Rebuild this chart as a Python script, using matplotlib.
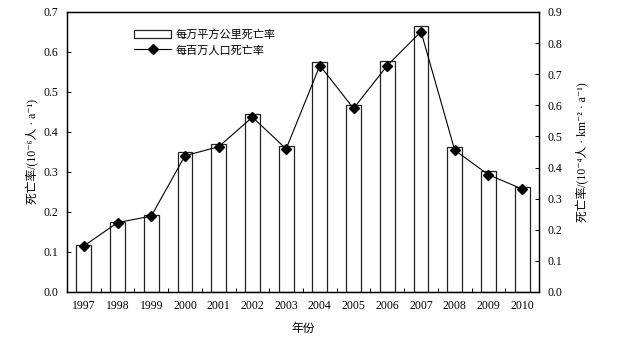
import matplotlib
matplotlib.use("Agg")
import matplotlib.pyplot as plt
import numpy as np

plt.rcParams['font.family'] = ['Liberation Serif', 'Noto Sans CJK SC', 'DejaVu Sans']
plt.rcParams['axes.unicode_minus'] = False

years = ['1997', '1998', '1999', '2000', '2001', '2002', '2003',
         '2004', '2005', '2006', '2007', '2008', '2009', '2010']
area_rate = [0.117, 0.175, 0.193, 0.349, 0.371, 0.446, 0.365,
             0.576, 0.468, 0.578, 0.664, 0.362, 0.302, 0.263]
pop_rate = [0.148, 0.223, 0.244, 0.438, 0.467, 0.562, 0.460,
            0.728, 0.590, 0.728, 0.837, 0.456, 0.377, 0.331]
left_ticks = [0.0, 0.1, 0.2, 0.3, 0.4, 0.5, 0.6, 0.7]
right_ticks = [0.0, 0.1, 0.2, 0.3, 0.4, 0.5, 0.6, 0.7, 0.8, 0.9]

fig = plt.figure(figsize=(6.42, 3.37), dpi=100)
ax = fig.add_axes([67/642, 1-292/337, 472/642, 280/337])
x = np.arange(len(years))
bars = ax.bar(x, area_rate, width=0.44, facecolor='white', edgecolor='#222222',
              linewidth=0.9, label='每万平方公里死亡率')
ax.set_xlim(-0.5, len(years)-0.5)
ax.set_ylim(0, 0.7)
ax.set_yticks(left_ticks)
ax.set_yticklabels([f'{t:.1f}' for t in left_ticks])
ax.set_xticks(x)
ax.set_xticklabels(years)
ax.tick_params(axis='x', which='major', length=0, pad=6, labelsize=8.5)
ax.set_xticks(np.arange(len(years)+1)-0.5, minor=True)
ax.tick_params(axis='x', which='minor', direction='in', length=3, width=0.7)
ax.tick_params(axis='y', direction='in', length=3, width=0.7, labelsize=8.5, pad=6)
ax.set_xlabel('年份', fontsize=8.5, labelpad=8)
ax.set_ylabel('死亡率/(10⁻⁶人 · a⁻¹)', fontsize=8.5, labelpad=3)
for s in ax.spines.values():
    s.set_linewidth(1.0)

ax2 = ax.twinx()
line, = ax2.plot(x, pop_rate, color='black', linewidth=0.8, marker='D',
                 markersize=4.6, markerfacecolor='black', label='每百万人口死亡率')
ax2.set_ylim(0, 0.9)
ax2.set_yticks(right_ticks)
ax2.set_yticklabels([f'{t:.1f}' for t in right_ticks])
ax2.tick_params(axis='y', direction='in', length=3, width=0.7, labelsize=8.5, pad=6)
ax2.set_ylabel('死亡率/(10⁻⁴人 · km⁻² · a⁻¹)', fontsize=8.5, labelpad=10)

leg = ax.legend([bars, line], ['每万平方公里死亡率', '每百万人口死亡率'],
                loc='upper left', bbox_to_anchor=(0.12, 0.975), frameon=False,
                fontsize=8, handlelength=3.4, handleheight=0.8,
                labelspacing=0.45, handletextpad=0.4)

fig.savefig('out.png', dpi=100)
